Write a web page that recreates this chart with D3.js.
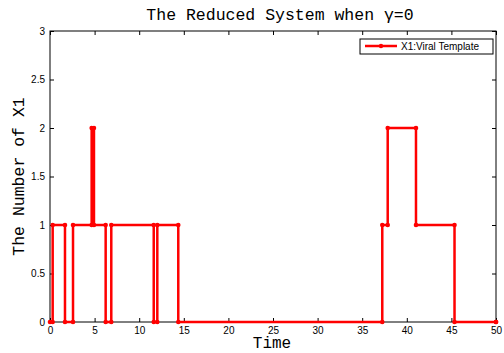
<!DOCTYPE html>
<html>
<head>
<meta charset="utf-8">
<script src="https://cdn.jsdelivr.net/npm/d3@7"></script>
<style>
  body { margin: 0; background: #fff; }
  svg { display: block; }
</style>
</head>
<body>
<script>
// event times and number of X1 after each event (stairs data)
var times  = [0, 0.3, 1.68, 2.58, 4.67, 4.93, 6.24, 6.87, 11.63, 12.03, 14.38, 37.25, 37.86, 41.03, 45.35, 50];
var values = [0, 1,   0,    1,    2,    1,    0,    1,    0,     1,     0,     1,     2,     1,     0,     0];
var xTicks = [0, 5, 10, 15, 20, 25, 30, 35, 40, 45, 50];
var yTicks = [0, 0.5, 1, 1.5, 2, 2.5, 3];

var w = 504;
var h = 353;
var plotLeft = 50, plotRight = 496, plotTop = 31, plotBottom = 322;

var svg = d3.select('body').append('svg').attr('width', w).attr('height', h);

var x = d3.scaleLinear().domain([0, 50]).range([plotLeft, plotRight]);
var y = d3.scaleLinear().domain([0, 3]).range([plotBottom, plotTop]);

var data = times.map(function(t, i) { return [t, values[i]]; });

// corners of the stairs, for the markers
var corners = [];
data.forEach(function(d, i) {
    if (i > 0) corners.push([d[0], data[i - 1][1]]);
    corners.push(d);
});

// axes (MATLAB style, ticks inside, box all round)
var tickFont = 'Liberation Sans, Arial, sans-serif';
svg.append('g').attr('transform', 'translate(0,' + plotBottom + ')')
    .call(d3.axisBottom(x).tickValues(xTicks).tickSizeInner(-4).tickSizeOuter(0).tickPadding(5));
svg.append('g').attr('transform', 'translate(' + plotLeft + ',0)')
    .call(d3.axisLeft(y).tickValues(yTicks).tickSizeInner(-4).tickSizeOuter(0).tickPadding(5)
        .tickFormat(function(d) { return d; }));
svg.append('g').attr('transform', 'translate(0,' + plotTop + ')')
    .call(d3.axisTop(x).tickValues(xTicks).tickSizeInner(-4).tickSizeOuter(0).tickFormat(''));
svg.append('g').attr('transform', 'translate(' + plotRight + ',0)')
    .call(d3.axisRight(y).tickValues(yTicks).tickSizeInner(-4).tickSizeOuter(0).tickFormat(''));
svg.selectAll('.domain').remove();
svg.selectAll('.tick line').attr('stroke', '#000');
svg.selectAll('.tick text').attr('font-family', tickFont).attr('font-size', '10px').attr('fill', '#000');

svg.append('rect').attr('x', plotLeft).attr('y', plotTop)
    .attr('width', plotRight - plotLeft).attr('height', plotBottom - plotTop)
    .attr('fill', 'none').attr('stroke', '#000').attr('stroke-width', 1);

// stairs line
var line = d3.line().x(function(d) { return x(d[0]); }).y(function(d) { return y(d[1]); })
    .curve(d3.curveStepAfter);
svg.append('path').datum(data).attr('d', line)
    .attr('fill', 'none').attr('stroke', '#ff0000').attr('stroke-width', 2.5);

svg.selectAll('circle.mk').data(corners).enter().append('circle')
    .attr('class', 'mk')
    .attr('cx', function(d) { return x(d[0]); })
    .attr('cy', function(d) { return y(d[1]); })
    .attr('r', 2.3)
    .attr('fill', '#ff0000');

// title and labels
var mono = 'Liberation Mono, Courier New, monospace';
svg.append('text').attr('x', 280).attr('y', 20).attr('text-anchor', 'middle')
    .attr('font-family', mono).attr('font-size', '16.5px').text('The Reduced System when \u03b3=0');
svg.append('text').attr('x', 272).attr('y', 348).attr('text-anchor', 'middle')
    .attr('font-family', mono).attr('font-size', '16px').text('Time');
svg.append('text').attr('transform', 'translate(24,' + ((plotTop + plotBottom) / 2) + ') rotate(-90)')
    .attr('text-anchor', 'middle')
    .attr('font-family', mono).attr('font-size', '16.5px').text('The Number of X1');

// legend
var lg = svg.append('g');
lg.append('rect').attr('x', 360).attr('y', 39).attr('width', 133).attr('height', 15)
    .attr('fill', '#fff').attr('stroke', '#000').attr('stroke-width', 1);
lg.append('line').attr('x1', 365).attr('x2', 397).attr('y1', 46).attr('y2', 46)
    .attr('stroke', '#ff0000').attr('stroke-width', 2.5);
lg.append('circle').attr('cx', 381).attr('cy', 46).attr('r', 2.2).attr('fill', '#ff0000');
lg.append('text').attr('x', 401).attr('y', 50)
    .attr('font-family', tickFont).attr('font-size', '10px').text('X1:Viral Template');
</script>
</body>
</html>
